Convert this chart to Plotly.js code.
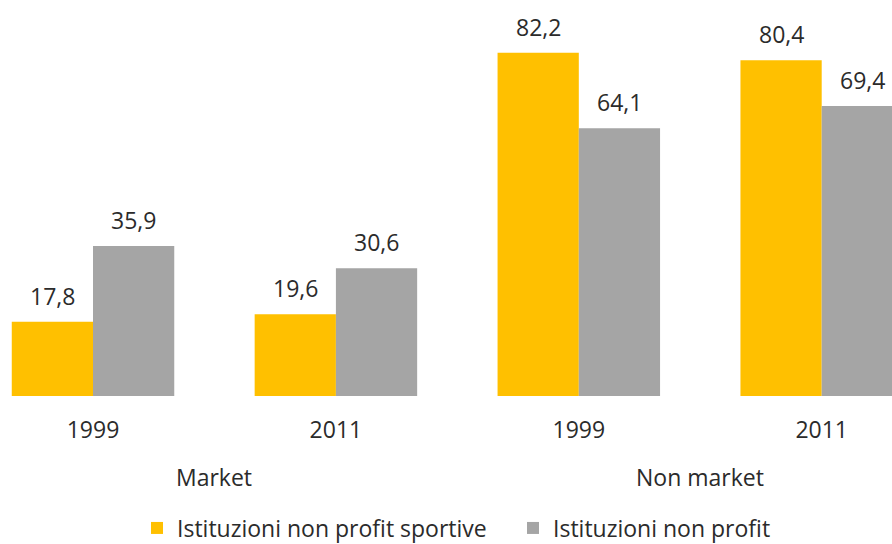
<!DOCTYPE html>
<html>
<head>
<meta charset="utf-8">
<script src="https://cdn.plot.ly/plotly-3.0.1.min.js"></script>
<style>html,body{margin:0;padding:0;background:#fff;}#chart{width:892px;height:544px;}</style>
</head>
<body>
<div id="chart"></div>
<script>
const groups = ["Market", "Market", "Non market", "Non market"];
const years = ["1999", "2011", "1999", "2011"];
const groupLabels = ["Market", "Non market"];
const sportive = [17.8, 19.6, 82.2, 80.4];
const nonProfit = [35.9, 30.6, 64.1, 69.4];
const seriesNames = ["Istituzioni non profit sportive", "Istituzioni non profit"];
const colors = ["#FFC000", "#A5A5A5"];

const idx = years.map((_, i) => i);
const FONT = "Open Sans, sans-serif";
const FS = 23;
const TXT = "#2b2b2b";
const bargap = 0.331;
const barW = (1 - bargap) / 2;

const traces = [sportive, nonProfit].map((vals, s) => ({
  type: "bar",
  name: seriesNames[s],
  x: idx,
  y: vals,
  marker: { color: colors[s], line: { width: 0 } },
  hoverinfo: "skip"
}));

const fmt = v => v.toFixed(1).replace(".", ",");
const annotations = [];
[sportive, nonProfit].forEach((vals, s) => {
  vals.forEach((v, i) => {
    annotations.push({
      xref: "x", yref: "y",
      x: i + (s === 0 ? -barW / 2 : barW / 2),
      y: v,
      text: fmt(v),
      showarrow: false,
      yshift: 26,
      font: { family: FONT, size: FS, color: TXT }
    });
  });
});
groupLabels.forEach((g, k) => {
  const members = idx.filter(i => groups[i] === g);
  const center = members.reduce((a, b) => a + b, 0) / members.length;
  annotations.push({
    xref: "x", yref: "paper",
    x: center, y: 0,
    yanchor: "middle",
    yshift: -81,
    text: g,
    showarrow: false,
    font: { family: FONT, size: FS, color: TXT }
  });
});

const layout = {
  width: 892, height: 544,
  margin: { l: 0, r: 0, t: 0, b: 148, pad: 0 },
  paper_bgcolor: "#fff", plot_bgcolor: "#fff",
  separators: ",.",
  barmode: "group",
  bargap: bargap,
  bargroupgap: 0,
  showlegend: true,
  legend: {
    orientation: "h",
    xref: "container", yref: "container",
    x: 137 / 892, xanchor: "left",
    y: 16 / 544, yanchor: "middle",
    entrywidth: 331,
    entrywidthmode: "pixels",
    font: { family: FONT, size: FS, color: TXT },
    bgcolor: "rgba(0,0,0,0)"
  },
  xaxis: {
    type: "linear",
    range: [-0.3829, 3.2894],
    tickmode: "array",
    tickvals: idx,
    ticktext: years,
    ticks: "",
    ticklabelstandoff: 18,
    showgrid: false, zeroline: false, showline: false,
    tickfont: { family: FONT, size: FS, color: TXT },
    fixedrange: true
  },
  yaxis: {
    range: [0, 94.8],
    visible: false,
    showgrid: false, zeroline: false,
    fixedrange: true
  },
  annotations: annotations
};

Plotly.newPlot("chart", traces, layout, { displayModeBar: false, staticPlot: true });
</script>
</body>
</html>
